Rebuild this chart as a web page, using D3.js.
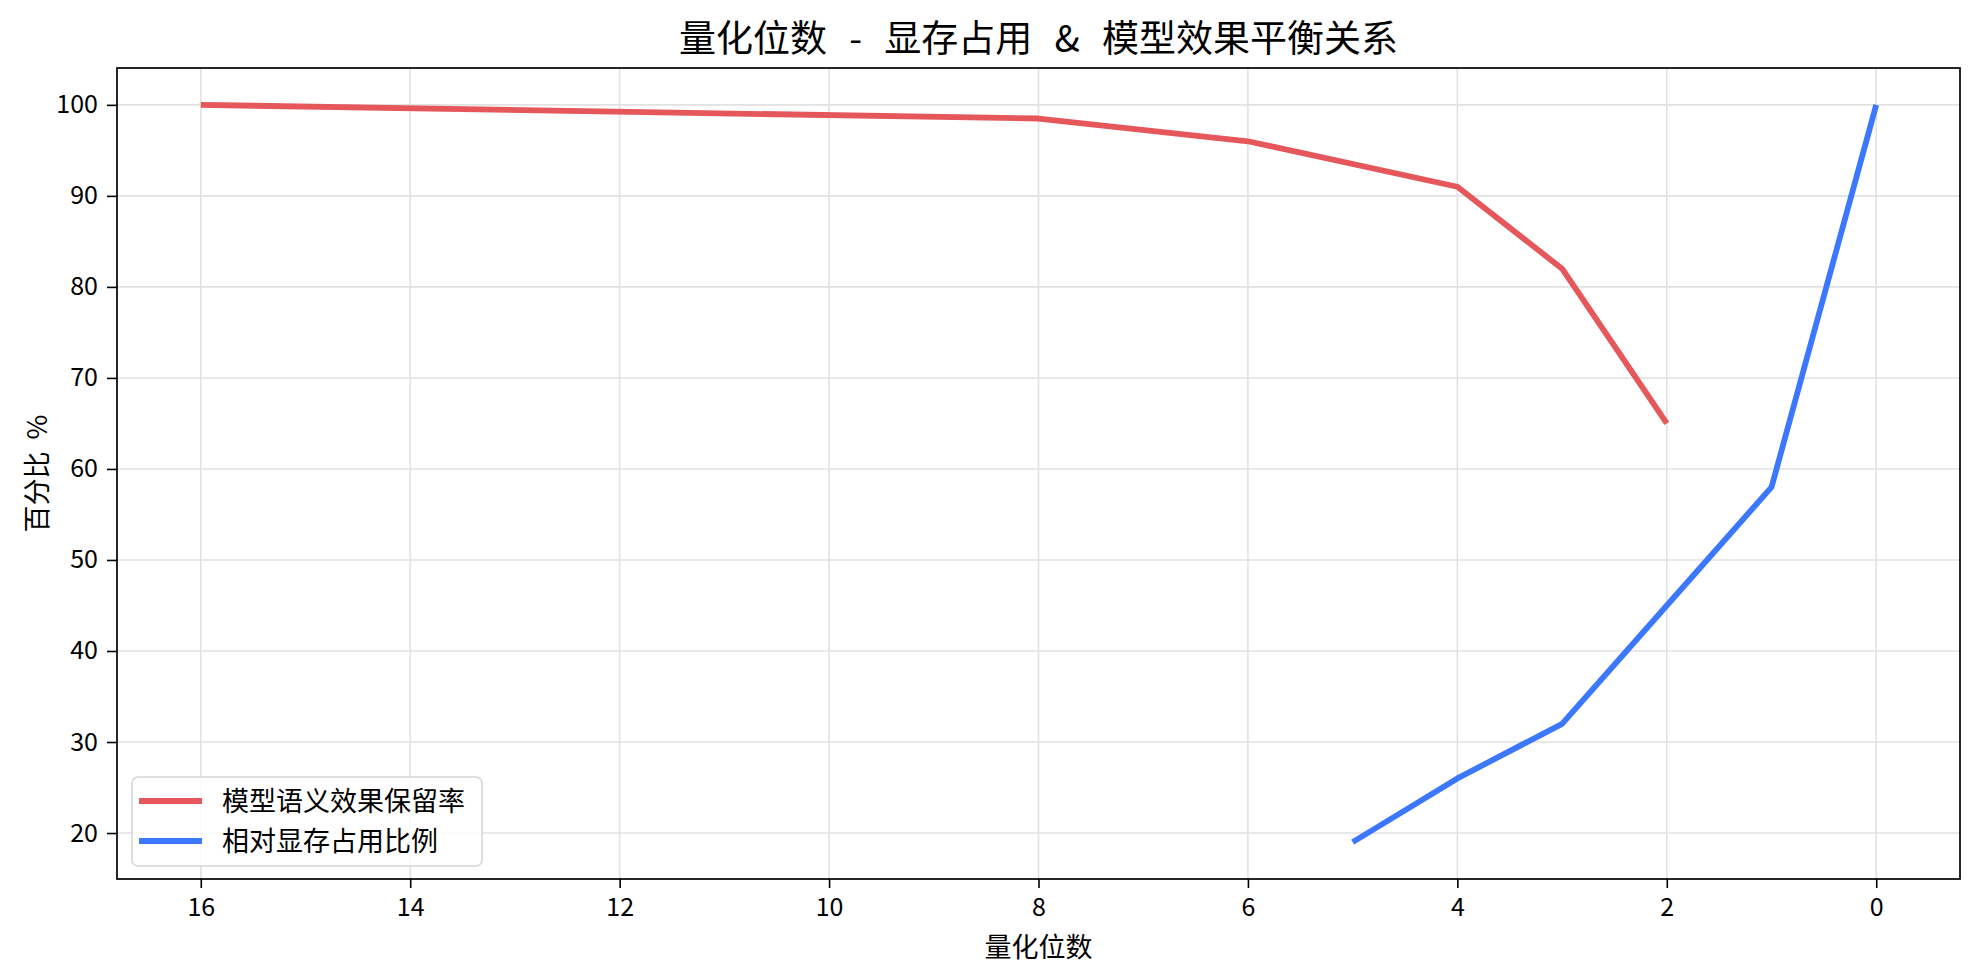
<!DOCTYPE html>
<html>
<head>
<meta charset="utf-8">
<script src="https://cdn.jsdelivr.net/npm/d3@7"></script>
<style>
  body { margin: 0; background: #fff; }
  svg { display: block; font-family: "Noto Sans CJK SC", "DejaVu Sans", sans-serif; }
</style>
</head>
<body>
<div id="chart"></div>
<script>
const width = 1979;
const height = 978;

// data
const seriesNames = ["模型语义效果保留率", "相对显存占用比例"];
const seriesColors = ["#e5575a", "#3c78fd"];
const retentionBits = [16, 8, 6, 4, 3, 2];
const retentionValues = [100, 98.5, 96, 91, 82, 65];
const memoryBits = [5, 4, 3, 2, 1, 0];
const memoryValues = [19, 26, 32, 45, 58, 100];
const xTicks = [16, 14, 12, 10, 8, 6, 4, 2, 0];
const yTicks = [20, 30, 40, 50, 60, 70, 80, 90, 100];

const titleText = "量化位数 - 显存占用 & 模型效果平衡关系";
const xLabel = "量化位数";
const yLabel = "百分比 %";

const margin = {top: 68, right: 19, bottom: 99, left: 117};
const innerW = width - margin.left - margin.right;
const innerH = height - margin.top - margin.bottom;

// matplotlib style 5% padding on both axes
const allX = retentionBits.concat(memoryBits);
const allY = retentionValues.concat(memoryValues);
const xPad = (d3.max(allX) - d3.min(allX)) * 0.05;
const yPad = (d3.max(allY) - d3.min(allY)) * 0.05;

const x = d3.scaleLinear()
    .domain([d3.max(allX) + xPad, d3.min(allX) - xPad])
    .range([0, innerW]);
const y = d3.scaleLinear()
    .domain([d3.min(allY) - yPad, d3.max(allY) + yPad])
    .range([innerH, 0]);

const svg = d3.select("#chart").append("svg")
    .attr("width", width)
    .attr("height", height);

const g = svg.append("g")
    .attr("transform", `translate(${margin.left},${margin.top})`);

// grid
g.append("g")
    .selectAll("line")
    .data(xTicks)
    .join("line")
    .attr("x1", d => x(d)).attr("x2", d => x(d))
    .attr("y1", 0).attr("y2", innerH)
    .attr("stroke", "#e2e2e2")
    .attr("stroke-width", 1.6);

g.append("g")
    .selectAll("line")
    .data(yTicks)
    .join("line")
    .attr("x1", 0).attr("x2", innerW)
    .attr("y1", d => y(d)).attr("y2", d => y(d))
    .attr("stroke", "#e2e2e2")
    .attr("stroke-width", 1.6);

// lines
const line = d3.line()
    .x(d => x(d[0]))
    .y(d => y(d[1]));

const series = [
    d3.zip(retentionBits, retentionValues),
    d3.zip(memoryBits, memoryValues)
];

g.append("g")
    .selectAll("path")
    .data(series)
    .join("path")
    .attr("fill", "none")
    .attr("stroke", (d, i) => seriesColors[i])
    .attr("stroke-width", 5.8)
    .attr("stroke-linejoin", "round")
    .attr("d", line);

// axes
const xAxis = g.append("g")
    .attr("transform", `translate(0,${innerH})`)
    .call(d3.axisBottom(x).tickValues(xTicks).tickSize(9).tickPadding(10).tickSizeOuter(0));

const yAxis = g.append("g")
    .call(d3.axisLeft(y).tickValues(yTicks).tickSize(10).tickPadding(9).tickSizeOuter(0));

[xAxis, yAxis].forEach(a => {
    a.select(".domain").remove();
    a.selectAll(".tick line").attr("stroke", "#000").attr("stroke-width", 1.6);
    a.selectAll(".tick text")
        .attr("fill", "#000")
        .style("font-size", "25px")
        .style("font-family", "\"Noto Sans CJK SC\", sans-serif");
});

// frame
g.append("rect")
    .attr("width", innerW)
    .attr("height", innerH)
    .attr("fill", "none")
    .attr("stroke", "#000")
    .attr("stroke-width", 1.7);

// title and axis labels
svg.append("text")
    .attr("x", margin.left + innerW / 2)
    .attr("y", 52)
    .attr("text-anchor", "middle")
    .style("font-size", "37px")
    .style("word-spacing", "14px")
    .text(titleText);

svg.append("text")
    .attr("x", margin.left + innerW / 2)
    .attr("y", 957)
    .attr("text-anchor", "middle")
    .style("font-size", "27px")
    .text(xLabel);

svg.append("text")
    .attr("transform", `translate(47,${margin.top + innerH / 2}) rotate(-90)`)
    .attr("text-anchor", "middle")
    .style("font-size", "27px")
    .style("word-spacing", "6px")
    .text(yLabel);

// legend
const legend = g.append("g")
    .attr("transform", `translate(15,${innerH - 102})`);

legend.append("rect")
    .attr("width", 350)
    .attr("height", 89)
    .attr("rx", 6)
    .attr("fill", "#fff")
    .attr("fill-opacity", 0.8)
    .attr("stroke", "#d6d6d6")
    .attr("stroke-width", 1.6);

const items = legend.selectAll(".item")
    .data(seriesNames)
    .join("g")
    .attr("class", "item")
    .attr("transform", (d, i) => `translate(0,${24 + i * 40})`);

items.append("line")
    .attr("x1", 7).attr("x2", 70)
    .attr("stroke", (d, i) => seriesColors[i])
    .attr("stroke-width", 5.8);

items.append("text")
    .attr("x", 90)
    .attr("dy", "0.36em")
    .style("font-size", "27px")
    .text(d => d);
</script>
</body>
</html>
